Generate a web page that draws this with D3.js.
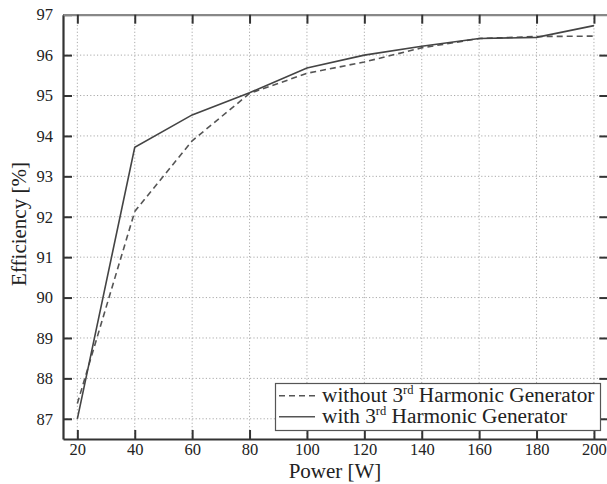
<!DOCTYPE html>
<html>
<head>
<meta charset="utf-8">
<script src="https://cdn.jsdelivr.net/npm/d3@7"></script>
<style>
  body { margin: 0; background: #fff; }
  svg { display: block; font-family: "Liberation Serif", "DejaVu Serif", serif; }
</style>
</head>
<body>
<svg id="chart"></svg>
<script>
// データ
const power = [20, 40, 60, 80, 100, 120, 140, 160, 180, 200];
const withoutGen = [87.38, 92.13, 93.88, 95.05, 95.55, 95.83, 96.18, 96.41, 96.46, 96.47];
const withGen = [87.0, 93.72, 94.52, 95.07, 95.68, 96.0, 96.22, 96.41, 96.44, 96.73];
const xTicks = [20, 40, 60, 80, 100, 120, 140, 160, 180, 200];
const yTicks = [87, 88, 89, 90, 91, 92, 93, 94, 95, 96, 97];

const width = 607, height = 484;
const margin = { top: 14.7, right: -1.3, bottom: 45, left: 63 };
const innerW = width - margin.left - margin.right;
const innerH = height - margin.top - margin.bottom;
const serif = '"Liberation Serif", "DejaVu Serif", serif';

const svg = d3.select('#chart').attr('width', width).attr('height', height);
const g = svg.append('g').attr('transform', `translate(${margin.left},${margin.top})`);

const x = d3.scaleLinear().domain([15, 205]).range([0, innerW]);
const y = d3.scaleLinear().domain([86.5, 97]).range([innerH, 0]);

// グリッド
g.append('g').selectAll('line.vg').data(xTicks).join('line')
  .attr('x1', d => x(d)).attr('x2', d => x(d))
  .attr('y1', 0).attr('y2', innerH)
  .attr('stroke', '#aaa').attr('stroke-width', 1).attr('stroke-dasharray', '1.2,2.2');
g.append('g').selectAll('line.hg').data(yTicks.filter(d => d < 97)).join('line')
  .attr('x1', 0).attr('x2', innerW)
  .attr('y1', d => y(d)).attr('y2', d => y(d))
  .attr('stroke', '#aaa').attr('stroke-width', 1).attr('stroke-dasharray', '1.2,2.2');

// 軸
const styleAxis = (sel, col) => {
  sel.attr('font-family', serif).attr('font-size', 16.5);
  sel.select('.domain').attr('stroke', col).attr('stroke-width', 2.2);
  sel.selectAll('.tick line').attr('stroke', '#333').attr('stroke-width', 2);
  sel.selectAll('text').attr('fill', '#222');
};

const xAxis = g.append('g').attr('transform', `translate(0,${innerH})`)
  .call(d3.axisBottom(x).tickValues(xTicks).tickSizeInner(-9).tickSizeOuter(0).tickPadding(4));
styleAxis(xAxis, '#333');

const yAxis = g.append('g')
  .call(d3.axisLeft(y).tickValues(yTicks).tickSizeInner(-9).tickSizeOuter(0).tickPadding(10));
styleAxis(yAxis, '#333');

const topAxis = g.append('g')
  .call(d3.axisTop(x).tickValues(xTicks).tickSizeInner(-9).tickSizeOuter(0).tickFormat(''));
styleAxis(topAxis, '#888');

const rightAxis = g.append('g').attr('transform', `translate(${innerW},0)`)
  .call(d3.axisRight(y).tickValues(yTicks.filter(d => d < 97)).tickSizeInner(-9).tickSizeOuter(0).tickFormat(''));
styleAxis(rightAxis, '#888');

// 線
const line = d3.line().x((d, i) => x(power[i])).y(d => y(d));
g.append('path').datum(withoutGen).attr('d', line)
  .attr('fill', 'none').attr('stroke', '#555').attr('stroke-width', 1.6)
  .attr('stroke-dasharray', '6,4');
g.append('path').datum(withGen).attr('d', line)
  .attr('fill', 'none').attr('stroke', '#444').attr('stroke-width', 1.6);

// 軸ラベル
svg.append('text').attr('x', 335).attr('y', 478).attr('text-anchor', 'middle')
  .attr('font-size', 21).attr('fill', '#222').text('Power [W]');
svg.append('text').attr('transform', 'translate(26,224) rotate(-90)').attr('text-anchor', 'middle')
  .attr('font-size', 21).attr('fill', '#222').text('Efficiency [%]');

// 凡例
const leg = svg.append('g');
leg.append('rect').attr('x', 275.5).attr('y', 383.5).attr('width', 325).attr('height', 47)
  .attr('fill', '#fff').attr('stroke', '#555').attr('stroke-width', 1.2);
const entries = [
  { pre: 'without 3', dash: '6,4', y: 395.7 },
  { pre: 'with 3', dash: null, y: 416.7 }
];
entries.forEach(e => {
  leg.append('line').attr('x1', 279).attr('x2', 315).attr('y1', e.y).attr('y2', e.y)
    .attr('stroke', '#555').attr('stroke-width', 1.6)
    .attr('stroke-dasharray', e.dash);
  const t = leg.append('text').attr('x', 322).attr('y', e.y + 6.5)
    .attr('font-size', 21.3).attr('fill', '#222');
  t.append('tspan').text(e.pre);
  t.append('tspan').attr('font-size', 12.5).attr('dy', -8).text('rd');
  t.append('tspan').attr('dy', 8).text(' Harmonic Generator');
});
</script>
</body>
</html>
